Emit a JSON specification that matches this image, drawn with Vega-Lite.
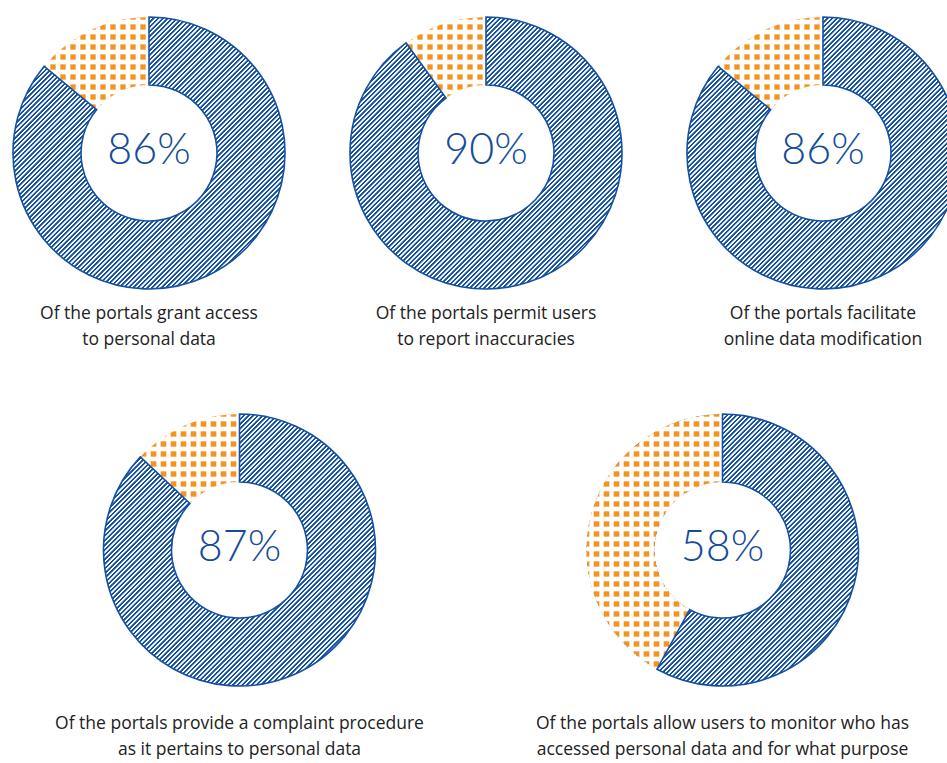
{
"$schema": "https://vega.github.io/schema/vega-lite/v6.json",
"padding": {"left": 9, "top": 13, "right": 0, "bottom": 0},
"data": {"values": [
{"id": 1, "part": "yes", "share": 0.86}, {"id": 1, "part": "no", "share": 0.14},
{"id": 2, "part": "yes", "share": 0.90}, {"id": 2, "part": "no", "share": 0.10},
{"id": 3, "part": "yes", "share": 0.86}, {"id": 3, "part": "no", "share": 0.14},
{"id": 4, "part": "yes", "share": 0.87}, {"id": 4, "part": "no", "share": 0.13},
{"id": 5, "part": "yes", "share": 0.58}, {"id": 5, "part": "no", "share": 0.42}
]},
"transform": [{"stack": "share", "groupby": ["id"], "sort": [{"field": "part", "order": "descending"}], "as": ["s0", "s1"]}],
"config": {
"view": {"stroke": null},
"title": {"font": "Open Sans", "fontSize": 17.5, "fontWeight": "normal", "color": "#222222", "orient": "bottom", "lineHeight": 26, "anchor": "middle"},
"style": {
"hatch": {"color": {"gradient": "linear", "x1": 0, "y1": 0, "x2": 1.8382, "y2": 1.8382, "stops": [
{"offset":0.0752,"color":"#1450a0"},{"offset":0.077,"color":"#1450a0"},{"offset":0.0776,"color":"#fff"},{"offset":0.0793,"color":"#fff"},
{"offset":0.0799,"color":"#1450a0"},{"offset":0.0817,"color":"#1450a0"},{"offset":0.0823,"color":"#fff"},{"offset":0.084,"color":"#fff"},
{"offset":0.0846,"color":"#1450a0"},{"offset":0.0864,"color":"#1450a0"},{"offset":0.087,"color":"#fff"},{"offset":0.0887,"color":"#fff"},
{"offset":0.0893,"color":"#1450a0"},{"offset":0.0911,"color":"#1450a0"},{"offset":0.0917,"color":"#fff"},{"offset":0.0934,"color":"#fff"},
{"offset":0.094,"color":"#1450a0"},{"offset":0.0958,"color":"#1450a0"},{"offset":0.0964,"color":"#fff"},{"offset":0.0981,"color":"#fff"},
{"offset":0.0987,"color":"#1450a0"},{"offset":0.1005,"color":"#1450a0"},{"offset":0.1011,"color":"#fff"},{"offset":0.1028,"color":"#fff"},
{"offset":0.1034,"color":"#1450a0"},{"offset":0.1052,"color":"#1450a0"},{"offset":0.1058,"color":"#fff"},{"offset":0.1075,"color":"#fff"},
{"offset":0.1081,"color":"#1450a0"},{"offset":0.1099,"color":"#1450a0"},{"offset":0.1105,"color":"#fff"},{"offset":0.1122,"color":"#fff"},
{"offset":0.1128,"color":"#1450a0"},{"offset":0.1146,"color":"#1450a0"},{"offset":0.1152,"color":"#fff"},{"offset":0.1169,"color":"#fff"},
{"offset":0.1175,"color":"#1450a0"},{"offset":0.1193,"color":"#1450a0"},{"offset":0.1199,"color":"#fff"},{"offset":0.1216,"color":"#fff"},
{"offset":0.1222,"color":"#1450a0"},{"offset":0.124,"color":"#1450a0"},{"offset":0.1246,"color":"#fff"},{"offset":0.1263,"color":"#fff"},
{"offset":0.1269,"color":"#1450a0"},{"offset":0.1287,"color":"#1450a0"},{"offset":0.1293,"color":"#fff"},{"offset":0.131,"color":"#fff"},
{"offset":0.1316,"color":"#1450a0"},{"offset":0.1334,"color":"#1450a0"},{"offset":0.134,"color":"#fff"},{"offset":0.1357,"color":"#fff"},
{"offset":0.1363,"color":"#1450a0"},{"offset":0.1381,"color":"#1450a0"},{"offset":0.1387,"color":"#fff"},{"offset":0.1404,"color":"#fff"},
{"offset":0.141,"color":"#1450a0"},{"offset":0.1428,"color":"#1450a0"},{"offset":0.1434,"color":"#fff"},{"offset":0.1451,"color":"#fff"},
{"offset":0.1457,"color":"#1450a0"},{"offset":0.1475,"color":"#1450a0"},{"offset":0.1481,"color":"#fff"},{"offset":0.1498,"color":"#fff"},
{"offset":0.1504,"color":"#1450a0"},{"offset":0.1522,"color":"#1450a0"},{"offset":0.1528,"color":"#fff"},{"offset":0.1545,"color":"#fff"},
{"offset":0.1551,"color":"#1450a0"},{"offset":0.1569,"color":"#1450a0"},{"offset":0.1575,"color":"#fff"},{"offset":0.1592,"color":"#fff"},
{"offset":0.1598,"color":"#1450a0"},{"offset":0.1616,"color":"#1450a0"},{"offset":0.1622,"color":"#fff"},{"offset":0.1639,"color":"#fff"},
{"offset":0.1645,"color":"#1450a0"},{"offset":0.1663,"color":"#1450a0"},{"offset":0.1669,"color":"#fff"},{"offset":0.1686,"color":"#fff"},
{"offset":0.1692,"color":"#1450a0"},{"offset":0.171,"color":"#1450a0"},{"offset":0.1716,"color":"#fff"},{"offset":0.1733,"color":"#fff"},
{"offset":0.1739,"color":"#1450a0"},{"offset":0.1757,"color":"#1450a0"},{"offset":0.1763,"color":"#fff"},{"offset":0.178,"color":"#fff"},
{"offset":0.1786,"color":"#1450a0"},{"offset":0.1804,"color":"#1450a0"},{"offset":0.181,"color":"#fff"},{"offset":0.1827,"color":"#fff"},
{"offset":0.1833,"color":"#1450a0"},{"offset":0.1851,"color":"#1450a0"},{"offset":0.1857,"color":"#fff"},{"offset":0.1874,"color":"#fff"},
{"offset":0.188,"color":"#1450a0"},{"offset":0.1898,"color":"#1450a0"},{"offset":0.1904,"color":"#fff"},{"offset":0.1921,"color":"#fff"},
{"offset":0.1927,"color":"#1450a0"},{"offset":0.1945,"color":"#1450a0"},{"offset":0.1951,"color":"#fff"},{"offset":0.1968,"color":"#fff"},
{"offset":0.1974,"color":"#1450a0"},{"offset":0.1992,"color":"#1450a0"},{"offset":0.1998,"color":"#fff"},{"offset":0.2015,"color":"#fff"},
{"offset":0.2021,"color":"#1450a0"},{"offset":0.2039,"color":"#1450a0"},{"offset":0.2045,"color":"#fff"},{"offset":0.2062,"color":"#fff"},
{"offset":0.2068,"color":"#1450a0"},{"offset":0.2086,"color":"#1450a0"},{"offset":0.2092,"color":"#fff"},{"offset":0.2109,"color":"#fff"},
{"offset":0.2115,"color":"#1450a0"},{"offset":0.2133,"color":"#1450a0"},{"offset":0.2139,"color":"#fff"},{"offset":0.2156,"color":"#fff"},
{"offset":0.2162,"color":"#1450a0"},{"offset":0.218,"color":"#1450a0"},{"offset":0.2186,"color":"#fff"},{"offset":0.2203,"color":"#fff"},
{"offset":0.2209,"color":"#1450a0"},{"offset":0.2227,"color":"#1450a0"},{"offset":0.2233,"color":"#fff"},{"offset":0.225,"color":"#fff"},
{"offset":0.2256,"color":"#1450a0"},{"offset":0.2274,"color":"#1450a0"},{"offset":0.228,"color":"#fff"},{"offset":0.2297,"color":"#fff"},
{"offset":0.2303,"color":"#1450a0"},{"offset":0.2321,"color":"#1450a0"},{"offset":0.2327,"color":"#fff"},{"offset":0.2344,"color":"#fff"},
{"offset":0.235,"color":"#1450a0"},{"offset":0.2368,"color":"#1450a0"},{"offset":0.2374,"color":"#fff"},{"offset":0.2391,"color":"#fff"},
{"offset":0.2397,"color":"#1450a0"},{"offset":0.2415,"color":"#1450a0"},{"offset":0.2421,"color":"#fff"},{"offset":0.2438,"color":"#fff"},
{"offset":0.2444,"color":"#1450a0"},{"offset":0.2462,"color":"#1450a0"},{"offset":0.2468,"color":"#fff"},{"offset":0.2485,"color":"#fff"},
{"offset":0.2491,"color":"#1450a0"},{"offset":0.2509,"color":"#1450a0"},{"offset":0.2515,"color":"#fff"},{"offset":0.2532,"color":"#fff"},
{"offset":0.2538,"color":"#1450a0"},{"offset":0.2556,"color":"#1450a0"},{"offset":0.2562,"color":"#fff"},{"offset":0.2579,"color":"#fff"},
{"offset":0.2585,"color":"#1450a0"},{"offset":0.2603,"color":"#1450a0"},{"offset":0.2609,"color":"#fff"},{"offset":0.2626,"color":"#fff"},
{"offset":0.2632,"color":"#1450a0"},{"offset":0.265,"color":"#1450a0"},{"offset":0.2656,"color":"#fff"},{"offset":0.2673,"color":"#fff"},
{"offset":0.2679,"color":"#1450a0"},{"offset":0.2697,"color":"#1450a0"},{"offset":0.2703,"color":"#fff"},{"offset":0.272,"color":"#fff"},
{"offset":0.2726,"color":"#1450a0"},{"offset":0.2744,"color":"#1450a0"},{"offset":0.275,"color":"#fff"},{"offset":0.2767,"color":"#fff"},
{"offset":0.2773,"color":"#1450a0"},{"offset":0.2791,"color":"#1450a0"},{"offset":0.2797,"color":"#fff"},{"offset":0.2814,"color":"#fff"},
{"offset":0.282,"color":"#1450a0"},{"offset":0.2838,"color":"#1450a0"},{"offset":0.2844,"color":"#fff"},{"offset":0.2861,"color":"#fff"},
{"offset":0.2867,"color":"#1450a0"},{"offset":0.2885,"color":"#1450a0"},{"offset":0.2891,"color":"#fff"},{"offset":0.2908,"color":"#fff"},
{"offset":0.2914,"color":"#1450a0"},{"offset":0.2932,"color":"#1450a0"},{"offset":0.2938,"color":"#fff"},{"offset":0.2955,"color":"#fff"},
{"offset":0.2961,"color":"#1450a0"},{"offset":0.2979,"color":"#1450a0"},{"offset":0.2985,"color":"#fff"},{"offset":0.3002,"color":"#fff"},
{"offset":0.3008,"color":"#1450a0"},{"offset":0.3026,"color":"#1450a0"},{"offset":0.3032,"color":"#fff"},{"offset":0.3049,"color":"#fff"},
{"offset":0.3055,"color":"#1450a0"},{"offset":0.3073,"color":"#1450a0"},{"offset":0.3079,"color":"#fff"},{"offset":0.3096,"color":"#fff"},
{"offset":0.3102,"color":"#1450a0"},{"offset":0.312,"color":"#1450a0"},{"offset":0.3126,"color":"#fff"},{"offset":0.3143,"color":"#fff"},
{"offset":0.3149,"color":"#1450a0"},{"offset":0.3167,"color":"#1450a0"},{"offset":0.3173,"color":"#fff"},{"offset":0.319,"color":"#fff"},
{"offset":0.3196,"color":"#1450a0"},{"offset":0.3214,"color":"#1450a0"},{"offset":0.322,"color":"#fff"},{"offset":0.3237,"color":"#fff"},
{"offset":0.3243,"color":"#1450a0"},{"offset":0.3261,"color":"#1450a0"},{"offset":0.3267,"color":"#fff"},{"offset":0.3284,"color":"#fff"},
{"offset":0.329,"color":"#1450a0"},{"offset":0.3308,"color":"#1450a0"},{"offset":0.3314,"color":"#fff"},{"offset":0.3331,"color":"#fff"},
{"offset":0.3337,"color":"#1450a0"},{"offset":0.3355,"color":"#1450a0"},{"offset":0.3361,"color":"#fff"},{"offset":0.3378,"color":"#fff"},
{"offset":0.3384,"color":"#1450a0"},{"offset":0.3402,"color":"#1450a0"},{"offset":0.3408,"color":"#fff"},{"offset":0.3425,"color":"#fff"},
{"offset":0.3431,"color":"#1450a0"},{"offset":0.3449,"color":"#1450a0"},{"offset":0.3455,"color":"#fff"},{"offset":0.3472,"color":"#fff"},
{"offset":0.3478,"color":"#1450a0"},{"offset":0.3496,"color":"#1450a0"},{"offset":0.3502,"color":"#fff"},{"offset":0.3519,"color":"#fff"},
{"offset":0.3525,"color":"#1450a0"},{"offset":0.3543,"color":"#1450a0"},{"offset":0.3549,"color":"#fff"},{"offset":0.3566,"color":"#fff"},
{"offset":0.3572,"color":"#1450a0"},{"offset":0.359,"color":"#1450a0"},{"offset":0.3596,"color":"#fff"},{"offset":0.3613,"color":"#fff"},
{"offset":0.3619,"color":"#1450a0"},{"offset":0.3637,"color":"#1450a0"},{"offset":0.3643,"color":"#fff"},{"offset":0.366,"color":"#fff"},
{"offset":0.3666,"color":"#1450a0"},{"offset":0.3684,"color":"#1450a0"},{"offset":0.369,"color":"#fff"},{"offset":0.3707,"color":"#fff"},
{"offset":0.3713,"color":"#1450a0"},{"offset":0.3731,"color":"#1450a0"},{"offset":0.3737,"color":"#fff"},{"offset":0.3754,"color":"#fff"},
{"offset":0.376,"color":"#1450a0"},{"offset":0.3778,"color":"#1450a0"},{"offset":0.3784,"color":"#fff"},{"offset":0.3801,"color":"#fff"},
{"offset":0.3807,"color":"#1450a0"},{"offset":0.3825,"color":"#1450a0"},{"offset":0.3831,"color":"#fff"},{"offset":0.3848,"color":"#fff"},
{"offset":0.3854,"color":"#1450a0"},{"offset":0.3872,"color":"#1450a0"},{"offset":0.3878,"color":"#fff"},{"offset":0.3895,"color":"#fff"},
{"offset":0.3901,"color":"#1450a0"},{"offset":0.3919,"color":"#1450a0"},{"offset":0.3925,"color":"#fff"},{"offset":0.3942,"color":"#fff"},
{"offset":0.3948,"color":"#1450a0"},{"offset":0.3966,"color":"#1450a0"},{"offset":0.3972,"color":"#fff"},{"offset":0.3989,"color":"#fff"},
{"offset":0.3995,"color":"#1450a0"},{"offset":0.4013,"color":"#1450a0"},{"offset":0.4019,"color":"#fff"},{"offset":0.4036,"color":"#fff"},
{"offset":0.4042,"color":"#1450a0"},{"offset":0.406,"color":"#1450a0"},{"offset":0.4066,"color":"#fff"},{"offset":0.4083,"color":"#fff"},
{"offset":0.4089,"color":"#1450a0"},{"offset":0.4107,"color":"#1450a0"},{"offset":0.4113,"color":"#fff"},{"offset":0.413,"color":"#fff"},
{"offset":0.4136,"color":"#1450a0"},{"offset":0.4154,"color":"#1450a0"},{"offset":0.416,"color":"#fff"},{"offset":0.4177,"color":"#fff"},
{"offset":0.4183,"color":"#1450a0"},{"offset":0.4201,"color":"#1450a0"},{"offset":0.4207,"color":"#fff"},{"offset":0.4224,"color":"#fff"},
{"offset":0.423,"color":"#1450a0"},{"offset":0.4248,"color":"#1450a0"},{"offset":0.4254,"color":"#fff"},{"offset":0.4271,"color":"#fff"},
{"offset":0.4277,"color":"#1450a0"},{"offset":0.4295,"color":"#1450a0"},{"offset":0.4301,"color":"#fff"},{"offset":0.4318,"color":"#fff"},
{"offset":0.4324,"color":"#1450a0"},{"offset":0.4342,"color":"#1450a0"},{"offset":0.4348,"color":"#fff"},{"offset":0.4365,"color":"#fff"},
{"offset":0.4371,"color":"#1450a0"},{"offset":0.4389,"color":"#1450a0"},{"offset":0.4395,"color":"#fff"},{"offset":0.4412,"color":"#fff"},
{"offset":0.4418,"color":"#1450a0"},{"offset":0.4436,"color":"#1450a0"},{"offset":0.4442,"color":"#fff"},{"offset":0.4459,"color":"#fff"},
{"offset":0.4465,"color":"#1450a0"},{"offset":0.4483,"color":"#1450a0"},{"offset":0.4489,"color":"#fff"},{"offset":0.4506,"color":"#fff"},
{"offset":0.4512,"color":"#1450a0"},{"offset":0.453,"color":"#1450a0"},{"offset":0.4536,"color":"#fff"},{"offset":0.4553,"color":"#fff"},
{"offset":0.4559,"color":"#1450a0"},{"offset":0.4577,"color":"#1450a0"},{"offset":0.4583,"color":"#fff"},{"offset":0.46,"color":"#fff"},
{"offset":0.4606,"color":"#1450a0"},{"offset":0.4624,"color":"#1450a0"},{"offset":0.463,"color":"#fff"},{"offset":0.4647,"color":"#fff"}
]}},
"dotRows": {"color": {"gradient": "linear", "x1": 0, "y1": 0, "x2": 0, "y2": 3.6765, "stops": [
{"offset":0,"color":"#f6921e"},{"offset":0.002,"color":"#f6921e"},{"offset":0.0035,"color":"#fff"},{"offset":0.0065,"color":"#fff"},
{"offset":0.008,"color":"#f6921e"},{"offset":0.012,"color":"#f6921e"},{"offset":0.0135,"color":"#fff"},{"offset":0.0165,"color":"#fff"},
{"offset":0.018,"color":"#f6921e"},{"offset":0.022,"color":"#f6921e"},{"offset":0.0235,"color":"#fff"},{"offset":0.0265,"color":"#fff"},
{"offset":0.028,"color":"#f6921e"},{"offset":0.032,"color":"#f6921e"},{"offset":0.0335,"color":"#fff"},{"offset":0.0365,"color":"#fff"},
{"offset":0.038,"color":"#f6921e"},{"offset":0.042,"color":"#f6921e"},{"offset":0.0435,"color":"#fff"},{"offset":0.0465,"color":"#fff"},
{"offset":0.048,"color":"#f6921e"},{"offset":0.052,"color":"#f6921e"},{"offset":0.0535,"color":"#fff"},{"offset":0.0565,"color":"#fff"},
{"offset":0.058,"color":"#f6921e"},{"offset":0.062,"color":"#f6921e"},{"offset":0.0635,"color":"#fff"},{"offset":0.0665,"color":"#fff"},
{"offset":0.068,"color":"#f6921e"},{"offset":0.072,"color":"#f6921e"},{"offset":0.0735,"color":"#fff"},{"offset":0.0765,"color":"#fff"},
{"offset":0.078,"color":"#f6921e"},{"offset":0.082,"color":"#f6921e"},{"offset":0.0835,"color":"#fff"},{"offset":0.0865,"color":"#fff"},
{"offset":0.088,"color":"#f6921e"},{"offset":0.092,"color":"#f6921e"},{"offset":0.0935,"color":"#fff"},{"offset":0.0965,"color":"#fff"},
{"offset":0.098,"color":"#f6921e"},{"offset":0.102,"color":"#f6921e"},{"offset":0.1035,"color":"#fff"},{"offset":0.1065,"color":"#fff"},
{"offset":0.108,"color":"#f6921e"},{"offset":0.112,"color":"#f6921e"},{"offset":0.1135,"color":"#fff"},{"offset":0.1165,"color":"#fff"},
{"offset":0.118,"color":"#f6921e"},{"offset":0.122,"color":"#f6921e"},{"offset":0.1235,"color":"#fff"},{"offset":0.1265,"color":"#fff"},
{"offset":0.128,"color":"#f6921e"},{"offset":0.132,"color":"#f6921e"},{"offset":0.1335,"color":"#fff"},{"offset":0.1365,"color":"#fff"},
{"offset":0.138,"color":"#f6921e"},{"offset":0.142,"color":"#f6921e"},{"offset":0.1435,"color":"#fff"},{"offset":0.1465,"color":"#fff"},
{"offset":0.148,"color":"#f6921e"},{"offset":0.152,"color":"#f6921e"},{"offset":0.1535,"color":"#fff"},{"offset":0.1565,"color":"#fff"},
{"offset":0.158,"color":"#f6921e"},{"offset":0.162,"color":"#f6921e"},{"offset":0.1635,"color":"#fff"},{"offset":0.1665,"color":"#fff"},
{"offset":0.168,"color":"#f6921e"},{"offset":0.172,"color":"#f6921e"},{"offset":0.1735,"color":"#fff"},{"offset":0.1765,"color":"#fff"},
{"offset":0.178,"color":"#f6921e"},{"offset":0.182,"color":"#f6921e"},{"offset":0.1835,"color":"#fff"},{"offset":0.1865,"color":"#fff"},
{"offset":0.188,"color":"#f6921e"},{"offset":0.192,"color":"#f6921e"},{"offset":0.1935,"color":"#fff"},{"offset":0.1965,"color":"#fff"},
{"offset":0.198,"color":"#f6921e"},{"offset":0.202,"color":"#f6921e"},{"offset":0.2035,"color":"#fff"},{"offset":0.2065,"color":"#fff"},
{"offset":0.208,"color":"#f6921e"},{"offset":0.212,"color":"#f6921e"},{"offset":0.2135,"color":"#fff"},{"offset":0.2165,"color":"#fff"},
{"offset":0.218,"color":"#f6921e"},{"offset":0.222,"color":"#f6921e"},{"offset":0.2235,"color":"#fff"},{"offset":0.2265,"color":"#fff"},
{"offset":0.228,"color":"#f6921e"},{"offset":0.232,"color":"#f6921e"},{"offset":0.2335,"color":"#fff"},{"offset":0.2365,"color":"#fff"},
{"offset":0.238,"color":"#f6921e"},{"offset":0.242,"color":"#f6921e"},{"offset":0.2435,"color":"#fff"},{"offset":0.2465,"color":"#fff"},
{"offset":0.248,"color":"#f6921e"},{"offset":0.252,"color":"#f6921e"},{"offset":0.2535,"color":"#fff"},{"offset":0.2565,"color":"#fff"},
{"offset":0.258,"color":"#f6921e"},{"offset":0.262,"color":"#f6921e"},{"offset":0.2635,"color":"#fff"},{"offset":0.2665,"color":"#fff"},
{"offset":0.268,"color":"#f6921e"},{"offset":0.272,"color":"#f6921e"}
]}},
"dotCols": {"color": {"gradient": "linear", "x1": 0, "y1": 0, "x2": 3.6765, "y2": 0, "stops": [
{"offset":0,"color":"#fff0"},{"offset":0.002,"color":"#fff0"},{"offset":0.0035,"color":"#fff"},{"offset":0.0065,"color":"#fff"},
{"offset":0.008,"color":"#fff0"},{"offset":0.012,"color":"#fff0"},{"offset":0.0135,"color":"#fff"},{"offset":0.0165,"color":"#fff"},
{"offset":0.018,"color":"#fff0"},{"offset":0.022,"color":"#fff0"},{"offset":0.0235,"color":"#fff"},{"offset":0.0265,"color":"#fff"},
{"offset":0.028,"color":"#fff0"},{"offset":0.032,"color":"#fff0"},{"offset":0.0335,"color":"#fff"},{"offset":0.0365,"color":"#fff"},
{"offset":0.038,"color":"#fff0"},{"offset":0.042,"color":"#fff0"},{"offset":0.0435,"color":"#fff"},{"offset":0.0465,"color":"#fff"},
{"offset":0.048,"color":"#fff0"},{"offset":0.052,"color":"#fff0"},{"offset":0.0535,"color":"#fff"},{"offset":0.0565,"color":"#fff"},
{"offset":0.058,"color":"#fff0"},{"offset":0.062,"color":"#fff0"},{"offset":0.0635,"color":"#fff"},{"offset":0.0665,"color":"#fff"},
{"offset":0.068,"color":"#fff0"},{"offset":0.072,"color":"#fff0"},{"offset":0.0735,"color":"#fff"},{"offset":0.0765,"color":"#fff"},
{"offset":0.078,"color":"#fff0"},{"offset":0.082,"color":"#fff0"},{"offset":0.0835,"color":"#fff"},{"offset":0.0865,"color":"#fff"},
{"offset":0.088,"color":"#fff0"},{"offset":0.092,"color":"#fff0"},{"offset":0.0935,"color":"#fff"},{"offset":0.0965,"color":"#fff"},
{"offset":0.098,"color":"#fff0"},{"offset":0.102,"color":"#fff0"},{"offset":0.1035,"color":"#fff"},{"offset":0.1065,"color":"#fff"},
{"offset":0.108,"color":"#fff0"},{"offset":0.112,"color":"#fff0"},{"offset":0.1135,"color":"#fff"},{"offset":0.1165,"color":"#fff"},
{"offset":0.118,"color":"#fff0"},{"offset":0.122,"color":"#fff0"},{"offset":0.1235,"color":"#fff"},{"offset":0.1265,"color":"#fff"},
{"offset":0.128,"color":"#fff0"},{"offset":0.132,"color":"#fff0"},{"offset":0.1335,"color":"#fff"},{"offset":0.1365,"color":"#fff"},
{"offset":0.138,"color":"#fff0"},{"offset":0.142,"color":"#fff0"},{"offset":0.1435,"color":"#fff"},{"offset":0.1465,"color":"#fff"},
{"offset":0.148,"color":"#fff0"},{"offset":0.152,"color":"#fff0"},{"offset":0.1535,"color":"#fff"},{"offset":0.1565,"color":"#fff"},
{"offset":0.158,"color":"#fff0"},{"offset":0.162,"color":"#fff0"},{"offset":0.1635,"color":"#fff"},{"offset":0.1665,"color":"#fff"},
{"offset":0.168,"color":"#fff0"},{"offset":0.172,"color":"#fff0"},{"offset":0.1735,"color":"#fff"},{"offset":0.1765,"color":"#fff"},
{"offset":0.178,"color":"#fff0"},{"offset":0.182,"color":"#fff0"},{"offset":0.1835,"color":"#fff"},{"offset":0.1865,"color":"#fff"},
{"offset":0.188,"color":"#fff0"},{"offset":0.192,"color":"#fff0"},{"offset":0.1935,"color":"#fff"},{"offset":0.1965,"color":"#fff"},
{"offset":0.198,"color":"#fff0"},{"offset":0.202,"color":"#fff0"},{"offset":0.2035,"color":"#fff"},{"offset":0.2065,"color":"#fff"},
{"offset":0.208,"color":"#fff0"},{"offset":0.212,"color":"#fff0"},{"offset":0.2135,"color":"#fff"},{"offset":0.2165,"color":"#fff"},
{"offset":0.218,"color":"#fff0"},{"offset":0.222,"color":"#fff0"},{"offset":0.2235,"color":"#fff"},{"offset":0.2265,"color":"#fff"},
{"offset":0.228,"color":"#fff0"},{"offset":0.232,"color":"#fff0"},{"offset":0.2335,"color":"#fff"},{"offset":0.2365,"color":"#fff"},
{"offset":0.238,"color":"#fff0"},{"offset":0.242,"color":"#fff0"},{"offset":0.2435,"color":"#fff"},{"offset":0.2465,"color":"#fff"},
{"offset":0.248,"color":"#fff0"},{"offset":0.252,"color":"#fff0"},{"offset":0.2535,"color":"#fff"},{"offset":0.2565,"color":"#fff"},
{"offset":0.258,"color":"#fff0"},{"offset":0.262,"color":"#fff0"},{"offset":0.2635,"color":"#fff"},{"offset":0.2665,"color":"#fff"},
{"offset":0.268,"color":"#fff0"},{"offset":0.272,"color":"#fff0"}
]}},
"dotRows58": {"color": {"gradient": "linear", "x1": 0, "y1": 0, "x2": 0, "y2": 3.9185, "stops": [
{"offset":0,"color":"#f6921e"},{"offset":0.002,"color":"#f6921e"},{"offset":0.0035,"color":"#fff"},{"offset":0.0065,"color":"#fff"},
{"offset":0.008,"color":"#f6921e"},{"offset":0.012,"color":"#f6921e"},{"offset":0.0135,"color":"#fff"},{"offset":0.0165,"color":"#fff"},
{"offset":0.018,"color":"#f6921e"},{"offset":0.022,"color":"#f6921e"},{"offset":0.0235,"color":"#fff"},{"offset":0.0265,"color":"#fff"},
{"offset":0.028,"color":"#f6921e"},{"offset":0.032,"color":"#f6921e"},{"offset":0.0335,"color":"#fff"},{"offset":0.0365,"color":"#fff"},
{"offset":0.038,"color":"#f6921e"},{"offset":0.042,"color":"#f6921e"},{"offset":0.0435,"color":"#fff"},{"offset":0.0465,"color":"#fff"},
{"offset":0.048,"color":"#f6921e"},{"offset":0.052,"color":"#f6921e"},{"offset":0.0535,"color":"#fff"},{"offset":0.0565,"color":"#fff"},
{"offset":0.058,"color":"#f6921e"},{"offset":0.062,"color":"#f6921e"},{"offset":0.0635,"color":"#fff"},{"offset":0.0665,"color":"#fff"},
{"offset":0.068,"color":"#f6921e"},{"offset":0.072,"color":"#f6921e"},{"offset":0.0735,"color":"#fff"},{"offset":0.0765,"color":"#fff"},
{"offset":0.078,"color":"#f6921e"},{"offset":0.082,"color":"#f6921e"},{"offset":0.0835,"color":"#fff"},{"offset":0.0865,"color":"#fff"},
{"offset":0.088,"color":"#f6921e"},{"offset":0.092,"color":"#f6921e"},{"offset":0.0935,"color":"#fff"},{"offset":0.0965,"color":"#fff"},
{"offset":0.098,"color":"#f6921e"},{"offset":0.102,"color":"#f6921e"},{"offset":0.1035,"color":"#fff"},{"offset":0.1065,"color":"#fff"},
{"offset":0.108,"color":"#f6921e"},{"offset":0.112,"color":"#f6921e"},{"offset":0.1135,"color":"#fff"},{"offset":0.1165,"color":"#fff"},
{"offset":0.118,"color":"#f6921e"},{"offset":0.122,"color":"#f6921e"},{"offset":0.1235,"color":"#fff"},{"offset":0.1265,"color":"#fff"},
{"offset":0.128,"color":"#f6921e"},{"offset":0.132,"color":"#f6921e"},{"offset":0.1335,"color":"#fff"},{"offset":0.1365,"color":"#fff"},
{"offset":0.138,"color":"#f6921e"},{"offset":0.142,"color":"#f6921e"},{"offset":0.1435,"color":"#fff"},{"offset":0.1465,"color":"#fff"},
{"offset":0.148,"color":"#f6921e"},{"offset":0.152,"color":"#f6921e"},{"offset":0.1535,"color":"#fff"},{"offset":0.1565,"color":"#fff"},
{"offset":0.158,"color":"#f6921e"},{"offset":0.162,"color":"#f6921e"},{"offset":0.1635,"color":"#fff"},{"offset":0.1665,"color":"#fff"},
{"offset":0.168,"color":"#f6921e"},{"offset":0.172,"color":"#f6921e"},{"offset":0.1735,"color":"#fff"},{"offset":0.1765,"color":"#fff"},
{"offset":0.178,"color":"#f6921e"},{"offset":0.182,"color":"#f6921e"},{"offset":0.1835,"color":"#fff"},{"offset":0.1865,"color":"#fff"},
{"offset":0.188,"color":"#f6921e"},{"offset":0.192,"color":"#f6921e"},{"offset":0.1935,"color":"#fff"},{"offset":0.1965,"color":"#fff"},
{"offset":0.198,"color":"#f6921e"},{"offset":0.202,"color":"#f6921e"},{"offset":0.2035,"color":"#fff"},{"offset":0.2065,"color":"#fff"},
{"offset":0.208,"color":"#f6921e"},{"offset":0.212,"color":"#f6921e"},{"offset":0.2135,"color":"#fff"},{"offset":0.2165,"color":"#fff"},
{"offset":0.218,"color":"#f6921e"},{"offset":0.222,"color":"#f6921e"},{"offset":0.2235,"color":"#fff"},{"offset":0.2265,"color":"#fff"},
{"offset":0.228,"color":"#f6921e"},{"offset":0.232,"color":"#f6921e"},{"offset":0.2335,"color":"#fff"},{"offset":0.2365,"color":"#fff"},
{"offset":0.238,"color":"#f6921e"},{"offset":0.242,"color":"#f6921e"},{"offset":0.2435,"color":"#fff"},{"offset":0.2465,"color":"#fff"},
{"offset":0.248,"color":"#f6921e"},{"offset":0.252,"color":"#f6921e"},{"offset":0.2535,"color":"#fff"},{"offset":0.2565,"color":"#fff"}
]}},
"dotCols58": {"color": {"gradient": "linear", "x1": 0, "y1": 0, "x2": 7.3529, "y2": 0, "stops": [
{"offset":0,"color":"#fff0"},{"offset":0.002,"color":"#fff0"},{"offset":0.0035,"color":"#fff"},{"offset":0.0065,"color":"#fff"},
{"offset":0.008,"color":"#fff0"},{"offset":0.012,"color":"#fff0"},{"offset":0.0135,"color":"#fff"},{"offset":0.0165,"color":"#fff"},
{"offset":0.018,"color":"#fff0"},{"offset":0.022,"color":"#fff0"},{"offset":0.0235,"color":"#fff"},{"offset":0.0265,"color":"#fff"},
{"offset":0.028,"color":"#fff0"},{"offset":0.032,"color":"#fff0"},{"offset":0.0335,"color":"#fff"},{"offset":0.0365,"color":"#fff"},
{"offset":0.038,"color":"#fff0"},{"offset":0.042,"color":"#fff0"},{"offset":0.0435,"color":"#fff"},{"offset":0.0465,"color":"#fff"},
{"offset":0.048,"color":"#fff0"},{"offset":0.052,"color":"#fff0"},{"offset":0.0535,"color":"#fff"},{"offset":0.0565,"color":"#fff"},
{"offset":0.058,"color":"#fff0"},{"offset":0.062,"color":"#fff0"},{"offset":0.0635,"color":"#fff"},{"offset":0.0665,"color":"#fff"},
{"offset":0.068,"color":"#fff0"},{"offset":0.072,"color":"#fff0"},{"offset":0.0735,"color":"#fff"},{"offset":0.0765,"color":"#fff"},
{"offset":0.078,"color":"#fff0"},{"offset":0.082,"color":"#fff0"},{"offset":0.0835,"color":"#fff"},{"offset":0.0865,"color":"#fff"},
{"offset":0.088,"color":"#fff0"},{"offset":0.092,"color":"#fff0"},{"offset":0.0935,"color":"#fff"},{"offset":0.0965,"color":"#fff"},
{"offset":0.098,"color":"#fff0"},{"offset":0.102,"color":"#fff0"},{"offset":0.1035,"color":"#fff"},{"offset":0.1065,"color":"#fff"},
{"offset":0.108,"color":"#fff0"},{"offset":0.112,"color":"#fff0"},{"offset":0.1135,"color":"#fff"},{"offset":0.1165,"color":"#fff"},
{"offset":0.118,"color":"#fff0"},{"offset":0.122,"color":"#fff0"},{"offset":0.1235,"color":"#fff"},{"offset":0.1265,"color":"#fff"},
{"offset":0.128,"color":"#fff0"},{"offset":0.132,"color":"#fff0"},{"offset":0.1335,"color":"#fff"},{"offset":0.1365,"color":"#fff"},
{"offset":0.138,"color":"#fff0"},{"offset":0.142,"color":"#fff0"}
]}}
}
},
"spacing": 61,
"vconcat": [
{"hconcat": [
{"width": 274, "height": 274,
 "title": {"text": ["Of the portals grant access", "to personal data"], "offset": 13},
 "transform": [{"filter": "datum.id == 1"}],
 "layer": [
  {"transform": [{"filter": "datum.part == 'yes'"}], "mark": {"type": "arc", "innerRadius": 68, "outerRadius": 136, "theta": 0, "theta2": 6.2832, "style": "dotRows"}, "encoding": {}},
  {"transform": [{"filter": "datum.part == 'yes'"}], "mark": {"type": "arc", "innerRadius": 68, "outerRadius": 136, "theta": 0, "theta2": 6.2832, "style": "dotCols"}, "encoding": {}},
  {"transform": [{"filter": "datum.part == 'yes'"}], "mark": {"type": "arc", "innerRadius": 68, "outerRadius": 136, "style": "hatch", "stroke": "#1450a0", "strokeWidth": 1.6}, "encoding": {"theta": {"field": "s0", "type": "quantitative", "scale": {"domain": [0, 1]}}, "theta2": {"field": "s1"}}},
  {"transform": [{"filter": "datum.part == 'yes'"}], "mark": {"type": "text", "font": "Lato", "fontSize": 43, "fontWeight": 300, "color": "#144c9b", "baseline": "middle", "dy": -2}, "encoding": {"text": {"field": "share", "type": "quantitative", "format": ".0%"}}}
 ]},
{"width": 274, "height": 274,
 "title": {"text": ["Of the portals permit users", "to report inaccuracies"], "offset": 13},
 "transform": [{"filter": "datum.id == 2"}],
 "layer": [
  {"transform": [{"filter": "datum.part == 'yes'"}], "mark": {"type": "arc", "innerRadius": 68, "outerRadius": 136, "theta": 0, "theta2": 6.2832, "style": "dotRows"}, "encoding": {}},
  {"transform": [{"filter": "datum.part == 'yes'"}], "mark": {"type": "arc", "innerRadius": 68, "outerRadius": 136, "theta": 0, "theta2": 6.2832, "style": "dotCols"}, "encoding": {}},
  {"transform": [{"filter": "datum.part == 'yes'"}], "mark": {"type": "arc", "innerRadius": 68, "outerRadius": 136, "style": "hatch", "stroke": "#1450a0", "strokeWidth": 1.6}, "encoding": {"theta": {"field": "s0", "type": "quantitative", "scale": {"domain": [0, 1]}}, "theta2": {"field": "s1"}}},
  {"transform": [{"filter": "datum.part == 'yes'"}], "mark": {"type": "text", "font": "Lato", "fontSize": 43, "fontWeight": 300, "color": "#144c9b", "baseline": "middle", "dy": -2}, "encoding": {"text": {"field": "share", "type": "quantitative", "format": ".0%"}}}
 ]},
{"width": 274, "height": 274,
 "title": {"text": ["Of the portals facilitate", "online data modification"], "offset": 13},
 "transform": [{"filter": "datum.id == 3"}],
 "layer": [
  {"transform": [{"filter": "datum.part == 'yes'"}], "mark": {"type": "arc", "innerRadius": 68, "outerRadius": 136, "theta": 0, "theta2": 6.2832, "style": "dotRows"}, "encoding": {}},
  {"transform": [{"filter": "datum.part == 'yes'"}], "mark": {"type": "arc", "innerRadius": 68, "outerRadius": 136, "theta": 0, "theta2": 6.2832, "style": "dotCols"}, "encoding": {}},
  {"transform": [{"filter": "datum.part == 'yes'"}], "mark": {"type": "arc", "innerRadius": 68, "outerRadius": 136, "style": "hatch", "stroke": "#1450a0", "strokeWidth": 1.6}, "encoding": {"theta": {"field": "s0", "type": "quantitative", "scale": {"domain": [0, 1]}}, "theta2": {"field": "s1"}}},
  {"transform": [{"filter": "datum.part == 'yes'"}], "mark": {"type": "text", "font": "Lato", "fontSize": 43, "fontWeight": 300, "color": "#144c9b", "baseline": "middle", "dy": -2}, "encoding": {"text": {"field": "share", "type": "quantitative", "format": ".0%"}}}
 ]}
], "spacing": 63, "bounds": "flush"},
{"hconcat": [
{"width": 455, "height": 274,
 "title": {"text": ["Of the portals provide a complaint procedure", "as it pertains to personal data"], "offset": 26},
 "transform": [{"filter": "datum.id == 4"}],
 "layer": [
  {"transform": [{"filter": "datum.part == 'yes'"}], "mark": {"type": "arc", "innerRadius": 68, "outerRadius": 136, "theta": 0, "theta2": 6.2832, "style": "dotRows"}, "encoding": {}},
  {"transform": [{"filter": "datum.part == 'yes'"}], "mark": {"type": "arc", "innerRadius": 68, "outerRadius": 136, "theta": 0, "theta2": 6.2832, "style": "dotCols"}, "encoding": {}},
  {"transform": [{"filter": "datum.part == 'yes'"}], "mark": {"type": "arc", "innerRadius": 68, "outerRadius": 136, "style": "hatch", "stroke": "#1450a0", "strokeWidth": 1.6}, "encoding": {"theta": {"field": "s0", "type": "quantitative", "scale": {"domain": [0, 1]}}, "theta2": {"field": "s1"}}},
  {"transform": [{"filter": "datum.part == 'yes'"}], "mark": {"type": "text", "font": "Lato", "fontSize": 43, "fontWeight": 300, "color": "#144c9b", "baseline": "middle", "dy": -2}, "encoding": {"text": {"field": "share", "type": "quantitative", "format": ".0%"}}}
 ]},
{"width": 455, "height": 274,
 "title": {"text": ["Of the portals allow users to monitor who has", "accessed personal data and for what purpose"], "offset": 26},
 "transform": [{"filter": "datum.id == 5"}],
 "layer": [
  {"transform": [{"filter": "datum.part == 'yes'"}], "mark": {"type": "arc", "innerRadius": 68, "outerRadius": 136, "theta": 0, "theta2": 6.2832, "style": "hatch"}, "encoding": {}},
  {"transform": [{"filter": "datum.part == 'no'"}], "mark": {"type": "arc", "innerRadius": 68, "outerRadius": 136, "style": "dotRows58"}, "encoding": {"theta": {"field": "s0", "type": "quantitative", "scale": {"domain": [0, 1]}}, "theta2": {"field": "s1"}}},
  {"transform": [{"filter": "datum.part == 'no'"}], "mark": {"type": "arc", "innerRadius": 68, "outerRadius": 136, "style": "dotCols58"}, "encoding": {"theta": {"field": "s0", "type": "quantitative", "scale": {"domain": [0, 1]}}, "theta2": {"field": "s1"}}},
  {"transform": [{"filter": "datum.part == 'yes'"}], "mark": {"type": "arc", "innerRadius": 68, "outerRadius": 136, "filled": false, "stroke": "#1450a0", "strokeWidth": 1.6}, "encoding": {"theta": {"field": "s0", "type": "quantitative", "scale": {"domain": [0, 1]}}, "theta2": {"field": "s1"}}},
  {"transform": [{"filter": "datum.part == 'yes'"}], "mark": {"type": "text", "font": "Lato", "fontSize": 43, "fontWeight": 300, "color": "#144c9b", "baseline": "middle", "dy": -2}, "encoding": {"text": {"field": "share", "type": "quantitative", "format": ".0%"}}}
 ]}
], "spacing": 28, "bounds": "flush"}
]
}
